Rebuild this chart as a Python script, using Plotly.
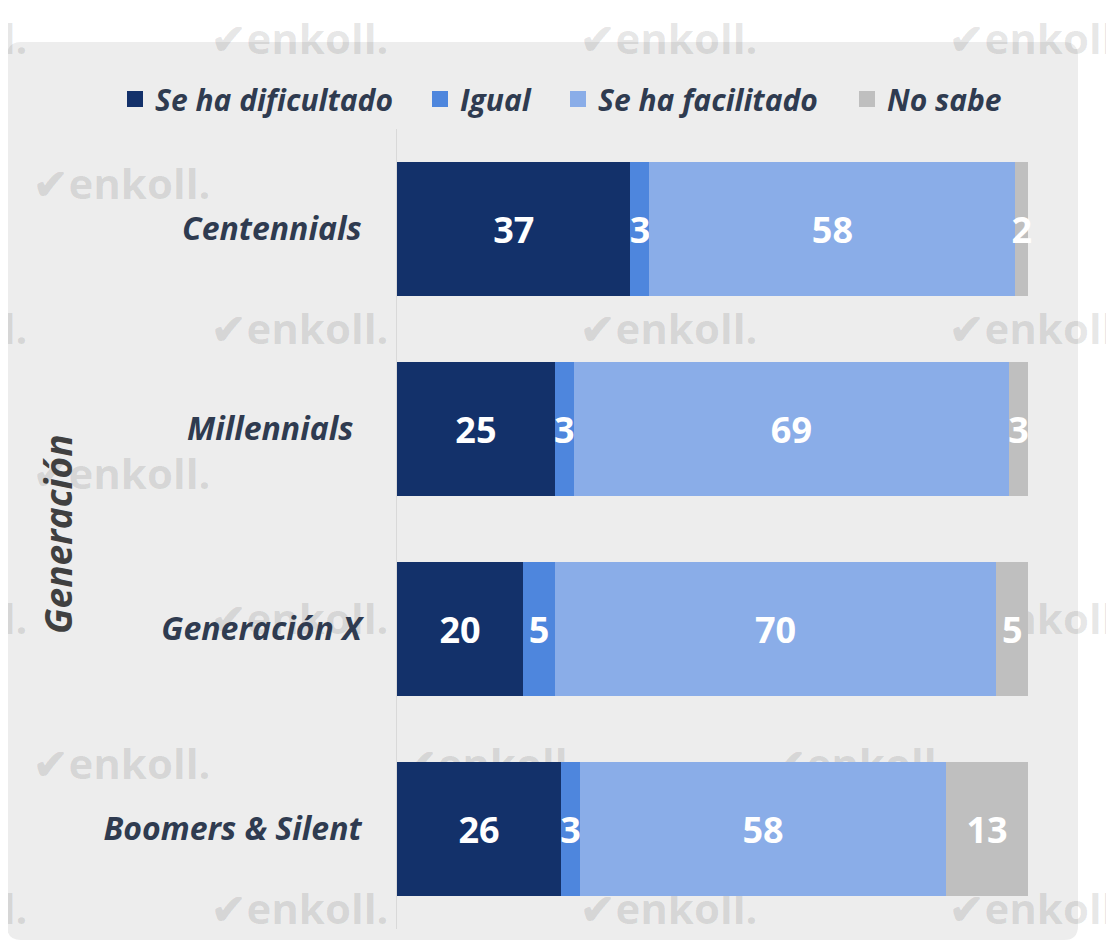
import plotly.graph_objects as go

# datos
generaciones = ["Centennials", "Millennials", "Generación X", "Boomers & Silent"]
etiquetas = ["Centennials", "Millennials\u00a0", "Generación X", "Boomers & Silent"]
se_ha_dificultado = [37, 25, 20, 26]
igual = [3, 3, 5, 3]
se_ha_facilitado = [58, 69, 70, 58]
no_sabe = [2, 3, 5, 13]

series = [
    ("Se ha dificultado", se_ha_dificultado, "#13316A"),
    ("Igual", igual, "#4E86DD"),
    ("Se ha facilitado", se_ha_facilitado, "#8AADE8"),
    ("No sabe", no_sabe, "#BFBFBF"),
]

# la página tiene 8px de margen en el body
OFF = 8
W, H = 1114 - OFF, 946 - OFF
L, R, T, B = 397 - OFF, 61, 129 - OFF, 17
pw, ph = W - L - R, H - T - B
x_max = 100 * pw / 631  # 100% cae en x=1028 del lienzo


def px(x):
    return (x - OFF - L) / pw


def py(y):
    return (H - B - (y - OFF)) / ph


legend_x = [115, 420, 558, 847]
legend_font = dict(family="Open Sans", size=30, color="#2F3B50",
                   weight="bold", style="italic")

fig = go.Figure()
legends = {}
for i, (name, vals, color) in enumerate(series):
    lg = "legend" if i == 0 else f"legend{i + 1}"
    fig.add_trace(go.Bar(
        y=generaciones, x=vals, name=name, orientation="h",
        marker=dict(color=color, line=dict(width=0)),
        text=vals, textposition="inside", insidetextanchor="middle",
        textangle=0, constraintext="none", cliponaxis=False,
        textfont=dict(family="Open Sans", size=36, color="white", weight="bold"),
        showlegend=False, hoverinfo="skip",
    ))
    # entrada de leyenda con cuadrado grande
    fig.add_trace(go.Scatter(
        x=[None], y=[None], mode="markers", name=name, legend=lg,
        marker=dict(symbol="square", size=20, color=color),
    ))
    legends[lg] = dict(
        orientation="h", xref="container", x=(legend_x[i] - OFF) / W,
        xanchor="left", y=py(99), yanchor="middle",
        bgcolor="rgba(0,0,0,0)", itemclick=False, font=legend_font,
    )

# panel gris redondeado
x0, x1, y0, y1, r = 7, 1078, 42, 940, 14
path = (f"M{px(x0 + r)},{py(y0)} L{px(x1 - r)},{py(y0)} Q{px(x1)},{py(y0)} {px(x1)},{py(y0 + r)} "
        f"L{px(x1)},{py(y1 - r)} Q{px(x1)},{py(y1)} {px(x1 - r)},{py(y1)} "
        f"L{px(x0 + r)},{py(y1)} Q{px(x0)},{py(y1)} {px(x0)},{py(y1 - r)} "
        f"L{px(x0)},{py(y0 + r)} Q{px(x0)},{py(y0)} {px(x0 + r)},{py(y0)} Z")
shapes = [dict(type="path", path=path, xref="paper", yref="paper",
               fillcolor="#EDEDED", line=dict(width=0), layer="below")]

# marcas de agua
for k in range(7):
    cy = 40 + 145 * k
    xs = [-61, 300, 669, 1038] if k % 2 == 0 else [122, 491, 860]
    for cx in xs:
        shapes.append(dict(
            type="rect", xref="paper", yref="paper",
            x0=px(cx - 120), x1=px(cx + 120), y0=py(cy + 28), y1=py(cy - 28),
            line=dict(width=0), fillcolor="rgba(0,0,0,0)", layer="below",
            label=dict(text="\u2714enkoll.", textposition="middle center",
                       font=dict(family="Open Sans", size=42, weight="bold",
                                 color="rgba(0,0,0,0.1)")),
        ))

fig.update_layout(
    width=W, height=H,
    margin=dict(l=L, r=R, t=T, b=B, autoexpand=False),
    paper_bgcolor="white", plot_bgcolor="rgba(0,0,0,0)",
    barmode="stack", bargap=0.33,
    uniformtext=dict(minsize=36, mode="show"),
    shapes=shapes,
    xaxis=dict(range=[0, x_max], visible=False, fixedrange=True),
    yaxis=dict(
        categoryorder="array", categoryarray=generaciones, autorange="reversed",
        tickmode="array", tickvals=generaciones, ticktext=etiquetas,
        showline=True, linecolor="#D9D9D9", linewidth=1, showgrid=False,
        ticks="", ticklabelstandoff=28,
        tickfont=dict(family="Open Sans", size=32, color="#2F3B50",
                      weight="bold", style="italic"),
    ),
    annotations=[dict(
        text="Generación", textangle=-90, xref="paper", yref="paper",
        x=px(57), y=py(534), xanchor="center", yanchor="middle", showarrow=False,
        font=dict(family="Open Sans", size=37, color="#404040",
                  weight="bold", style="italic"),
    )],
    **legends,
)

fig.write_html("out.html")
